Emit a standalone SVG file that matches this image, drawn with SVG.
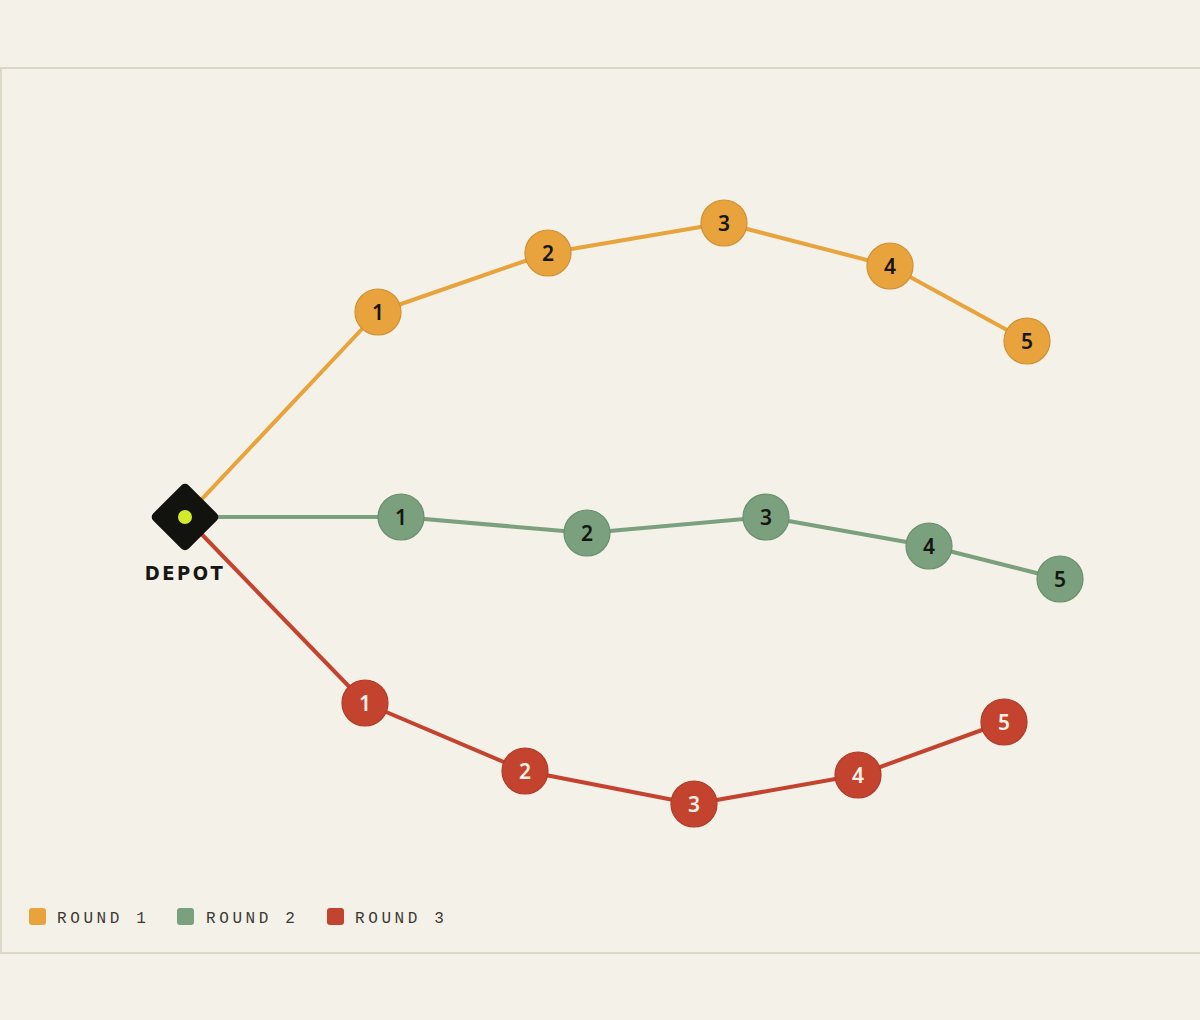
<svg xmlns="http://www.w3.org/2000/svg" width="1200" height="1020" viewBox="0 0 1200 1020">
<style>
.edge{fill:none;stroke-width:4;stroke-linecap:round;stroke-linejoin:round}
.o{stroke:#e8a33d}.g{stroke:#7aa07d}.r{stroke:#c4432e}
.node circle{stroke-width:1.2}
.no circle{fill:#e8a33d;stroke:#cf9035}
.ng circle{fill:#7aa07d;stroke:#6a8f6d}
.nr circle{fill:#c4432e;stroke:#b03a27}
.node text{font-family:"Noto Sans","DejaVu Sans",sans-serif;font-size:21px;font-weight:600;text-anchor:middle;dominant-baseline:central}
.no text,.ng text{fill:#161612}
.nr text{fill:#f6f1e6}
.leg text{font-family:"Liberation Mono","DejaVu Sans Mono",monospace;font-size:16px;letter-spacing:3.6px;fill:#3b3a34}
</style>
<rect x="0" y="0" width="1200" height="1020" fill="#f4f1e8"/>
<rect x="1" y="68" width="1200" height="885" fill="#f4f1e8" stroke="#dcd8c7" stroke-width="2"/>
<g id="connectors">
<polyline class="edge o" points="185,517 378,312 548,253 724,223 890,266 1027,341"/>
<polyline class="edge g" points="185,517 401,517 587,533 766,517 929,546 1060,579"/>
<polyline class="edge r" points="185,517 365,703 525,771 694,804 858,775 1004,722"/>
</g>
<g id="depot">
<rect x="160" y="492" width="50" height="50" rx="5" fill="#12120f" transform="rotate(45 185 517)"/>
<circle cx="185" cy="517" r="7" fill="#d2ea2c"/>
<text x="185" y="580" font-family="'DejaVu Sans Condensed','DejaVu Sans',sans-serif" font-size="20" font-weight="bold" letter-spacing="2.5" text-anchor="middle" fill="#161612">DEPOT</text>
</g>
<g id="r1-1" class="node no"><circle cx="378" cy="312" r="23"/><text x="378" y="312">1</text></g>
<g id="r1-2" class="node no"><circle cx="548" cy="253" r="23"/><text x="548" y="253">2</text></g>
<g id="r1-3" class="node no"><circle cx="724" cy="223" r="23"/><text x="724" y="223">3</text></g>
<g id="r1-4" class="node no"><circle cx="890" cy="266" r="23"/><text x="890" y="266">4</text></g>
<g id="r1-5" class="node no"><circle cx="1027" cy="341" r="23"/><text x="1027" y="341">5</text></g>
<g id="r2-1" class="node ng"><circle cx="401" cy="517" r="23"/><text x="401" y="517">1</text></g>
<g id="r2-2" class="node ng"><circle cx="587" cy="533" r="23"/><text x="587" y="533">2</text></g>
<g id="r2-3" class="node ng"><circle cx="766" cy="517" r="23"/><text x="766" y="517">3</text></g>
<g id="r2-4" class="node ng"><circle cx="929" cy="546" r="23"/><text x="929" y="546">4</text></g>
<g id="r2-5" class="node ng"><circle cx="1060" cy="579" r="23"/><text x="1060" y="579">5</text></g>
<g id="r3-1" class="node nr"><circle cx="365" cy="703" r="23"/><text x="365" y="703">1</text></g>
<g id="r3-2" class="node nr"><circle cx="525" cy="771" r="23"/><text x="525" y="771">2</text></g>
<g id="r3-3" class="node nr"><circle cx="694" cy="804" r="23"/><text x="694" y="804">3</text></g>
<g id="r3-4" class="node nr"><circle cx="858" cy="775" r="23"/><text x="858" y="775">4</text></g>
<g id="r3-5" class="node nr"><circle cx="1004" cy="722" r="23"/><text x="1004" y="722">5</text></g>
<g id="legend" class="leg">
<rect x="29" y="908" width="17" height="17" rx="3" fill="#e8a33d"/>
<text x="57" y="923">ROUND 1</text>
<rect x="177" y="908" width="17" height="17" rx="3" fill="#7aa07d"/>
<text x="206" y="923">ROUND 2</text>
<rect x="327" y="908" width="17" height="17" rx="3" fill="#c4432e"/>
<text x="355" y="923">ROUND 3</text>
</g>
</svg>
